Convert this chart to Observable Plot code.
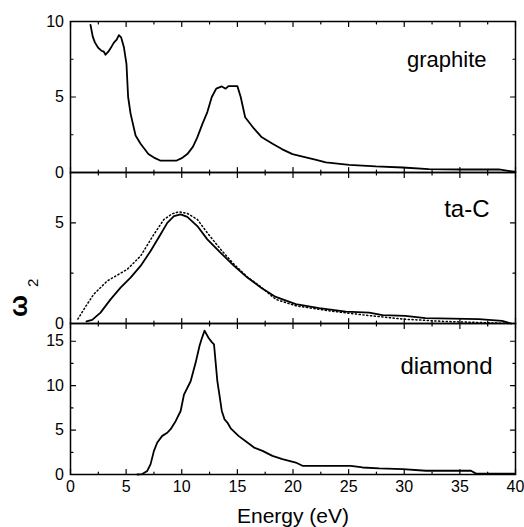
<!DOCTYPE html>
<html><head><meta charset="utf-8">
<script src="https://cdn.jsdelivr.net/npm/d3@7"></script>
<script src="https://cdn.jsdelivr.net/npm/@observablehq/plot@0.6"></script>
<style>
html,body{margin:0;padding:0;background:#fff;}
#chart{position:relative;width:524px;height:527px;overflow:hidden;background:#fff;}
#chart > svg{position:absolute;left:0;}
</style></head><body><div id="chart"></div>
<script>
// ---- data ----
const xMajor = [0, 5, 10, 15, 20, 25, 30, 35, 40];
const xMinor = [2.5, 7.5, 12.5, 17.5, 22.5, 27.5, 32.5, 37.5];
const xLabel = "Energy (eV)";

const graphiteE = [1.8,2.0,2.2,2.5,2.8,3.0,3.15,3.4,3.7,3.9,4.15,4.35,4.55,4.8,5.03,5.18,5.4,5.85,6.3,7.0,7.6,8.1,9.5,10.0,10.5,11.0,11.4,11.85,12.3,12.7,13.1,13.6,13.95,14.2,15.0,15.3,15.7,16.5,17.2,18.2,19.0,19.95,21.15,22.0,22.95,25.05,27.45,29.85,32.2,35.2,38.5,39.9];
const graphiteV = [9.77,9.0,8.6,8.25,8.05,8.0,7.8,8.0,8.35,8.6,8.8,9.1,8.95,8.3,7.2,5.0,3.9,2.45,1.9,1.22,0.95,0.78,0.78,0.95,1.22,1.7,2.33,3.2,4.0,5.0,5.55,5.7,5.55,5.72,5.72,5.0,3.66,2.9,2.33,1.89,1.55,1.22,1.0,0.85,0.67,0.51,0.4,0.33,0.22,0.2,0.2,0.05];

const tacE = [1.44,1.95,2.7,3.6,4.5,5.4,6.3,7.2,8.1,8.7,9.3,9.9,10.5,11.4,12.3,13.5,14.7,15.9,17.2,18.45,20.25,22.35,24.75,26.85,28.05,30.1,31.9,36.7,38.8,39.6];
const tacV = [0.1,0.18,0.54,1.2,1.78,2.28,2.86,3.6,4.43,5.0,5.33,5.42,5.3,4.84,4.18,3.51,2.86,2.28,1.75,1.32,0.96,0.76,0.59,0.54,0.42,0.38,0.27,0.22,0.13,0.0];

const tacDotE = [0.66,1.5,2.1,3.3,5.1,6.3,7.5,8.4,9.15,9.75,10.5,11.4,12.3,13.5,14.7,15.9,17.2,18.45,20.25,23.25,26.25,29.85,33.7,36.7,39.6];
const tacDotV = [0.22,0.96,1.46,2.11,2.69,3.35,4.43,5.17,5.45,5.55,5.47,5.17,4.5,3.68,2.94,2.31,1.78,1.2,0.88,0.63,0.43,0.22,0.1,0.05,0.0];

const diamondE = [6.0,6.45,6.9,7.2,7.5,7.8,8.25,8.7,9.0,9.45,9.9,10.2,10.8,11.25,11.6,11.8,12.05,12.4,12.7,12.9,13.2,13.4,13.6,13.85,14.1,14.4,15.1,15.9,16.5,17.26,18.15,19.05,20.25,20.85,25.2,26.25,27.75,29.85,31.95,36.0,36.45,39.9];
const diamondV = [0,0.05,0.4,1.17,2.66,3.6,4.35,4.7,5.1,6.0,7.15,9.0,10.5,12.6,14.5,15.3,16.2,15.4,14.9,14.65,10.5,8.85,7.15,6.2,5.85,5.2,4.35,3.6,3.03,2.66,2.1,1.73,1.35,0.98,0.98,0.79,0.68,0.6,0.42,0.42,0.1,0.1];

const panelNames = ["graphite", "ta-C", "diamond"];
const yMax = [10, 7.5, 17];
const yMajor = [[0, 5, 10], [0, 5], [0, 5, 10, 15]];
const yMinor = [[2.5, 7.5], [2.5], [2.5, 7.5, 12.5]];

const zip = (E, V) => E.map((e, i) => ({E: e, V: V[i]}));
const seriesByPanel = [
  [{data: zip(graphiteE, graphiteV), dotted: false}],
  [{data: zip(tacDotE, tacDotV), dotted: true}, {data: zip(tacE, tacV), dotted: false}],
  [{data: zip(diamondE, diamondV), dotted: false}]
];

// ---- layout ----
const W = 524, ML = 70, MR = 9;
const panelTops = [21, 172, 323];
const panelH = 151;
const labelStyle = [
  {fontSize: 22, dx: -29, dy: 45.7},
  {fontSize: 24, dx: -26, dy: 44.7},
  {fontSize: 24, dx: -23, dy: 50.3}
];
const FONT = "'Liberation Sans', Arial, Helvetica, sans-serif";
const tickShape = {draw(ctx, l) { ctx.moveTo(0, 0); ctx.lineTo(0, -l); }};

function ticks(values, channel, frameAnchor, rotate, length) {
  const o = {frameAnchor, rotate, length, anchor: "start", shape: tickShape, stroke: "black", strokeWidth: 1.2};
  o[channel] = d => d;
  return Plot.vector(values, o);
}

const chart = document.getElementById("chart");

panelNames.forEach((name, i) => {
  const last = i === panelNames.length - 1;
  const mt = 10, mb = last ? 53 : 10;
  const marks = [
    ...seriesByPanel[i].map(s => Plot.line(s.data, {
      x: "E", y: "V", stroke: "black",
      strokeWidth: s.dotted ? 1.5 : 1.8,
      strokeDasharray: s.dotted ? "1.2,2.6" : null
    })),
    Plot.frame({stroke: "black", strokeWidth: 1.5}),
    ticks(xMajor, "x", "bottom", 0, 5),
    ticks(xMinor, "x", "bottom", 0, 2.5),
    ticks(xMajor, "x", "top", 180, 5),
    ticks(xMinor, "x", "top", 180, 2.5),
    ticks(yMajor[i], "y", "left", 90, 5),
    ticks(yMinor[i], "y", "left", 90, 2.5),
    ticks(yMajor[i], "y", "right", 270, 5),
    ticks(yMinor[i], "y", "right", 270, 2.5),
    Plot.axisY({ticks: yMajor[i], tickSize: 0, tickPadding: 6.5, label: null, fontSize: 16}),
    Plot.text([name], {
      text: d => d, frameAnchor: "top-right", textAnchor: "end", lineAnchor: "bottom",
      dx: labelStyle[i].dx, dy: labelStyle[i].dy, fontSize: labelStyle[i].fontSize, fill: "black"
    })
  ];
  if (last) {
    marks.push(Plot.axisX({ticks: xMajor, tickSize: 0, tickPadding: 6, label: null, fontSize: 16}));
    marks.push(Plot.text([xLabel], {
      text: d => d, frameAnchor: "bottom", textAnchor: "middle", lineAnchor: "bottom",
      dy: 48.8, fontSize: 21, fill: "black"
    }));
  }
  const svg = Plot.plot({
    width: W,
    height: panelH + mt + mb,
    marginLeft: ML, marginRight: MR, marginTop: mt, marginBottom: mb,
    x: {domain: [0, 40], axis: null},
    y: {domain: [0, yMax[i]], axis: null},
    style: {background: "transparent", overflow: "visible", fontFamily: FONT, fontSize: "16px", color: "black"},
    marks
  });
  svg.style.position = "absolute";
  svg.style.top = (panelTops[i] - mt) + "px";
  svg.style.left = "0px";
  chart.appendChild(svg);
});

// y-axis label: ω with subscript 2
const lab = d3.select(chart).append("svg")
  .attr("width", 60).attr("height", 527)
  .style("position", "absolute").style("left", "0px").style("top", "0px");
const t = lab.append("text")
  .attr("transform", "translate(27,317) rotate(-90)")
  .attr("font-family", FONT).attr("fill", "black");
t.append("tspan").attr("font-size", 26).attr("font-weight", "bold").text("ω");
t.append("tspan").attr("font-size", 15).attr("dx", 8).attr("dy", 10.5).text("2");
</script>
</body></html>
